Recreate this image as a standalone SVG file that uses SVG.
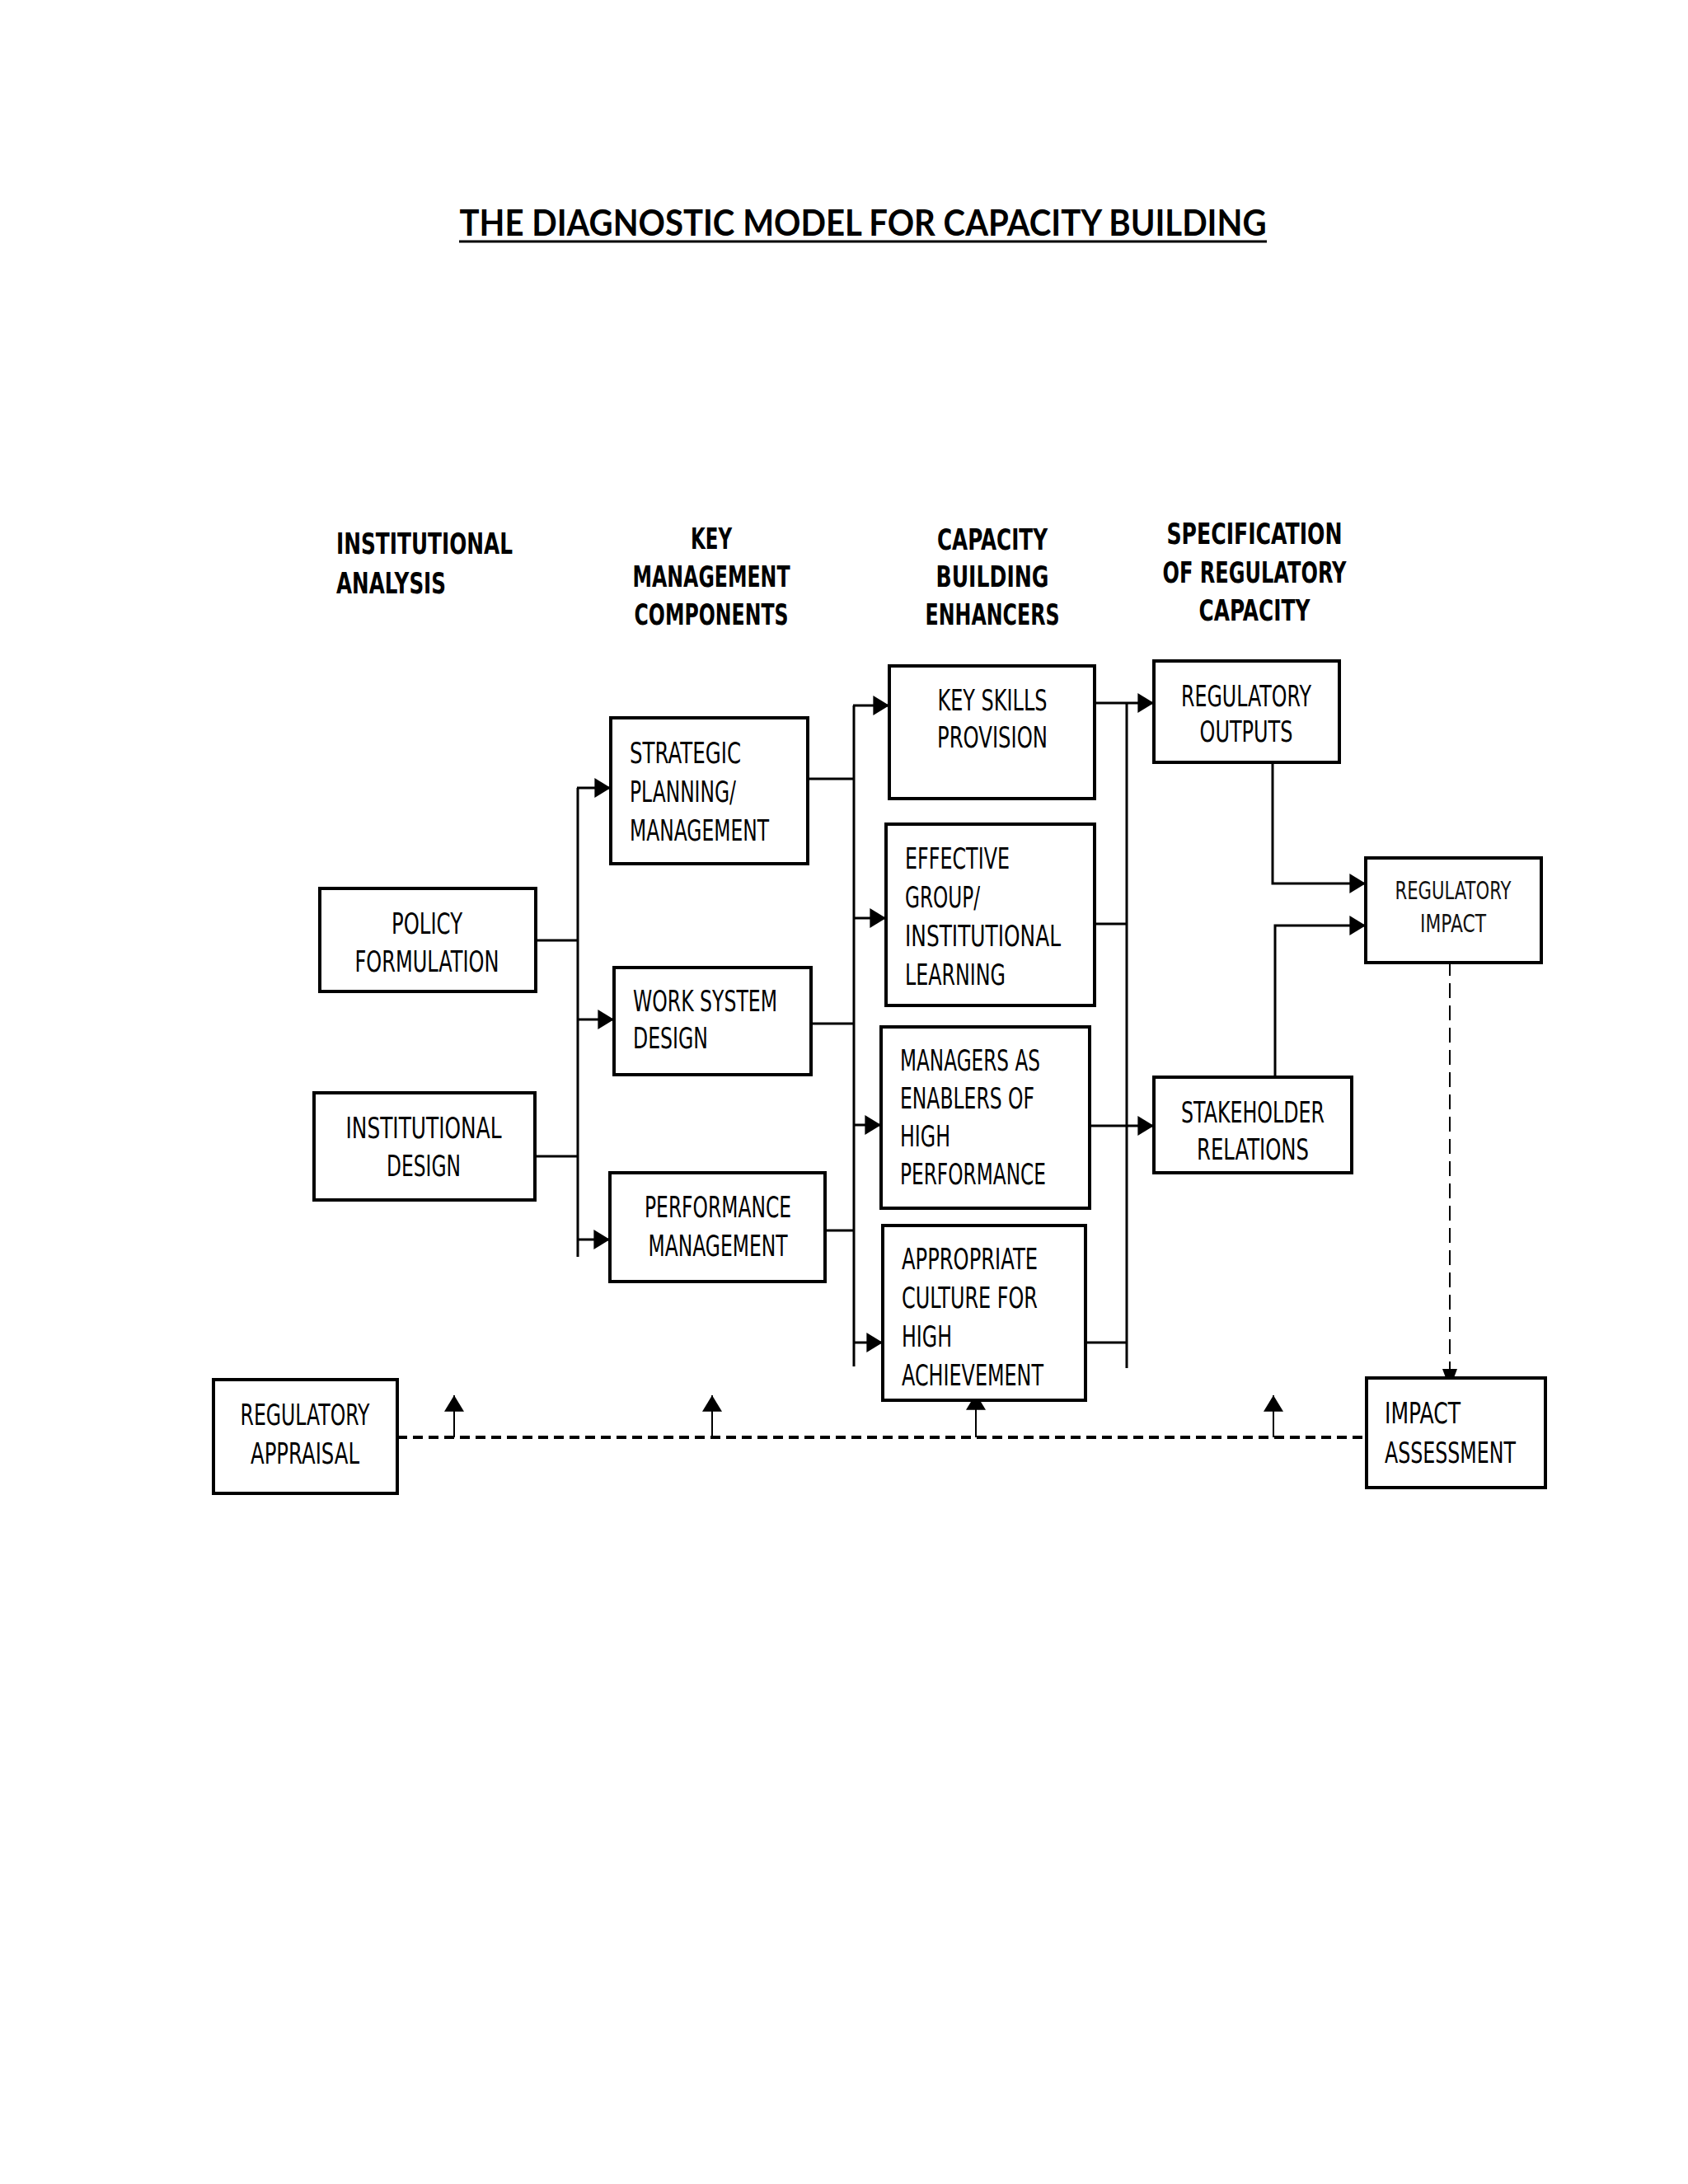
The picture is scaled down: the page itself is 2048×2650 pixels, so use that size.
<svg xmlns="http://www.w3.org/2000/svg" width="2048" height="2650" viewBox="0 0 2048 2650">
<style>
.box{fill:#fff;stroke:#000;stroke-width:4}
.t{font-family:"DejaVu Sans","Liberation Sans",sans-serif;font-size:36px;fill:#000}
.h{font-family:"DejaVu Sans","Liberation Sans",sans-serif;font-size:36px;font-weight:bold;fill:#000}
.thin{font-family:"DejaVu Sans","Liberation Sans",sans-serif;font-size:31px;fill:#111}
.c{text-anchor:middle}
.ln{fill:none;stroke:#000;stroke-width:3}
.ar{fill:none;stroke:#000;stroke-width:3;marker-end:url(#ah)}
.up{fill:none;stroke:#000;stroke-width:2;marker-end:url(#ah)}
.dash{fill:none;stroke:#000;stroke-width:4;stroke-dasharray:12 7}
.vdash{fill:none;stroke:#000;stroke-width:2;stroke-dasharray:18 9}
</style>
<defs>
<marker id="ah" markerUnits="userSpaceOnUse" markerWidth="20" markerHeight="24" viewBox="0 0 18 22" refX="18" refY="11" orient="auto">
<path d="M0,0 L18,11 L0,22 Z" fill="#000"/>
</marker>
</defs>
<rect width="2048" height="2650" fill="#fff"/>

<g id="title">
<text x="1047" y="286" text-anchor="middle" font-family="Lato,'Liberation Sans',sans-serif" font-weight="bold" font-size="43" textLength="979" lengthAdjust="spacingAndGlyphs">THE DIAGNOSTIC MODEL FOR CAPACITY BUILDING</text>
<line x1="557" y1="293" x2="1537" y2="293" stroke="#000" stroke-width="3"/>
</g>

<g id="headers">
<text class="h" x="408" y="672" textLength="214" lengthAdjust="spacingAndGlyphs">INSTITUTIONAL</text>
<text class="h" x="408" y="720" textLength="133" lengthAdjust="spacingAndGlyphs">ANALYSIS</text>
<text class="h c" x="863" y="666" textLength="50" lengthAdjust="spacingAndGlyphs">KEY</text>
<text class="h c" x="863" y="712" textLength="191" lengthAdjust="spacingAndGlyphs">MANAGEMENT</text>
<text class="h c" x="863" y="758" textLength="187" lengthAdjust="spacingAndGlyphs">COMPONENTS</text>
<text class="h c" x="1204" y="667" textLength="134" lengthAdjust="spacingAndGlyphs">CAPACITY</text>
<text class="h c" x="1204" y="712" textLength="137" lengthAdjust="spacingAndGlyphs">BUILDING</text>
<text class="h c" x="1204" y="758" textLength="163" lengthAdjust="spacingAndGlyphs">ENHANCERS</text>
<text class="h c" x="1522" y="660" textLength="213" lengthAdjust="spacingAndGlyphs">SPECIFICATION</text>
<text class="h c" x="1522" y="707" textLength="223" lengthAdjust="spacingAndGlyphs">OF REGULATORY</text>
<text class="h c" x="1522" y="753" textLength="135" lengthAdjust="spacingAndGlyphs">CAPACITY</text>
</g>

<g id="connectors">
<polyline class="ln" points="650,1141 701,1141"/>
<polyline class="ln" points="649,1403 701,1403"/>
<polyline class="ln" points="701,956 701,1525"/>
<polyline class="ar" points="700,956 741,956"/>
<polyline class="ar" points="700,1237 745,1237"/>
<polyline class="ar" points="700,1504 740,1504"/>
<polyline class="ln" points="980,945 1036,945"/>
<polyline class="ln" points="984,1242 1036,1242"/>
<polyline class="ln" points="1001,1493 1036,1493"/>
<polyline class="ln" points="1036,856 1036,1658"/>
<polyline class="ar" points="1035,856 1079,856"/>
<polyline class="ar" points="1035,1114 1075,1114"/>
<polyline class="ar" points="1035,1365 1069,1365"/>
<polyline class="ar" points="1035,1629 1071,1629"/>
<polyline class="ar" points="1328,853 1400,853"/>
<polyline class="ln" points="1328,1121 1367,1121"/>
<polyline class="ar" points="1322,1366 1400,1366"/>
<polyline class="ln" points="1317,1629 1367,1629"/>
<polyline class="ln" points="1367,853 1367,1660"/>
<polyline class="ar" points="1544,919 1544,1072 1657,1072"/>
<polyline class="ar" points="1547,1307 1547,1123 1657,1123"/>
<polyline class="vdash" points="1759,1166 1759,1670"/>
<path d="M1750,1661 L1759,1685 L1768,1661 Z" fill="#000"/>
<polyline class="dash" points="482,1744 1658,1744"/>
<polyline class="up" points="551,1744 551,1693"/>
<polyline class="up" points="864,1744 864,1693"/>
<polyline class="up" points="1184,1744 1184,1691"/>
<polyline class="up" points="1545,1744 1545,1693"/>
</g>

<g id="policy-formulation">
<rect class="box" x="388" y="1078" width="262" height="125"/>
<text class="t c" x="518" y="1133" textLength="86" lengthAdjust="spacingAndGlyphs">POLICY</text>
<text class="t c" x="518" y="1179" textLength="175" lengthAdjust="spacingAndGlyphs">FORMULATION</text>
</g>
<g id="institutional-design">
<rect class="box" x="381" y="1326" width="268" height="130"/>
<text class="t c" x="514" y="1381" textLength="189" lengthAdjust="spacingAndGlyphs">INSTITUTIONAL</text>
<text class="t c" x="514" y="1427" textLength="90" lengthAdjust="spacingAndGlyphs">DESIGN</text>
</g>
<g id="strategic-planning">
<rect class="box" x="741" y="871" width="239" height="177"/>
<text class="t" x="764" y="926" textLength="135" lengthAdjust="spacingAndGlyphs">STRATEGIC</text>
<text class="t" x="764" y="973" textLength="129" lengthAdjust="spacingAndGlyphs">PLANNING/</text>
<text class="t" x="764" y="1020" textLength="169" lengthAdjust="spacingAndGlyphs">MANAGEMENT</text>
</g>
<g id="work-system-design">
<rect class="box" x="745" y="1174" width="239" height="130"/>
<text class="t" x="768" y="1227" textLength="175" lengthAdjust="spacingAndGlyphs">WORK SYSTEM</text>
<text class="t" x="768" y="1272" textLength="91" lengthAdjust="spacingAndGlyphs">DESIGN</text>
</g>
<g id="performance-management">
<rect class="box" x="740" y="1423" width="261" height="132"/>
<text class="t c" x="871" y="1477" textLength="178" lengthAdjust="spacingAndGlyphs">PERFORMANCE</text>
<text class="t c" x="871" y="1524" textLength="169" lengthAdjust="spacingAndGlyphs">MANAGEMENT</text>
</g>
<g id="key-skills-provision">
<rect class="box" x="1079" y="808" width="249" height="161"/>
<text class="t c" x="1204" y="862" textLength="133" lengthAdjust="spacingAndGlyphs">KEY SKILLS</text>
<text class="t c" x="1204" y="907" textLength="134" lengthAdjust="spacingAndGlyphs">PROVISION</text>
</g>
<g id="effective-group-learning">
<rect class="box" x="1075" y="1000" width="253" height="220"/>
<text class="t" x="1098" y="1054" textLength="127" lengthAdjust="spacingAndGlyphs">EFFECTIVE</text>
<text class="t" x="1098" y="1101" textLength="91" lengthAdjust="spacingAndGlyphs">GROUP/</text>
<text class="t" x="1098" y="1148" textLength="189" lengthAdjust="spacingAndGlyphs">INSTITUTIONAL</text>
<text class="t" x="1098" y="1195" textLength="122" lengthAdjust="spacingAndGlyphs">LEARNING</text>
</g>
<g id="managers-enablers">
<rect class="box" x="1069" y="1246" width="253" height="220"/>
<text class="t" x="1092" y="1299" textLength="170" lengthAdjust="spacingAndGlyphs">MANAGERS AS</text>
<text class="t" x="1092" y="1345" textLength="163" lengthAdjust="spacingAndGlyphs">ENABLERS OF</text>
<text class="t" x="1092" y="1391" textLength="61" lengthAdjust="spacingAndGlyphs">HIGH</text>
<text class="t" x="1092" y="1437" textLength="177" lengthAdjust="spacingAndGlyphs">PERFORMANCE</text>
</g>
<g id="appropriate-culture">
<rect class="box" x="1071" y="1487" width="246" height="212"/>
<text class="t" x="1094" y="1540" textLength="165" lengthAdjust="spacingAndGlyphs">APPROPRIATE</text>
<text class="t" x="1094" y="1587" textLength="165" lengthAdjust="spacingAndGlyphs">CULTURE FOR</text>
<text class="t" x="1094" y="1634" textLength="61" lengthAdjust="spacingAndGlyphs">HIGH</text>
<text class="t" x="1094" y="1681" textLength="172" lengthAdjust="spacingAndGlyphs">ACHIEVEMENT</text>
</g>
<g id="regulatory-outputs">
<rect class="box" x="1400" y="802" width="225" height="123"/>
<text class="t c" x="1512" y="857" textLength="158" lengthAdjust="spacingAndGlyphs">REGULATORY</text>
<text class="t c" x="1512" y="900" textLength="113" lengthAdjust="spacingAndGlyphs">OUTPUTS</text>
</g>
<g id="regulatory-impact">
<rect class="box" x="1657" y="1041" width="213" height="127"/>
<text class="thin c" x="1763" y="1091" textLength="141" lengthAdjust="spacingAndGlyphs">REGULATORY</text>
<text class="thin c" x="1763" y="1131" textLength="80" lengthAdjust="spacingAndGlyphs">IMPACT</text>
</g>
<g id="stakeholder-relations">
<rect class="box" x="1400" y="1307" width="240" height="116"/>
<text class="t c" x="1520" y="1362" textLength="174" lengthAdjust="spacingAndGlyphs">STAKEHOLDER</text>
<text class="t c" x="1520" y="1407" textLength="136" lengthAdjust="spacingAndGlyphs">RELATIONS</text>
</g>
<g id="regulatory-appraisal">
<rect class="box" x="259" y="1674" width="223" height="138"/>
<text class="t c" x="370" y="1729" textLength="157" lengthAdjust="spacingAndGlyphs">REGULATORY</text>
<text class="t c" x="370" y="1776" textLength="132" lengthAdjust="spacingAndGlyphs">APPRAISAL</text>
</g>
<g id="impact-assessment">
<rect class="box" x="1658" y="1672" width="217" height="133"/>
<text class="t" x="1680" y="1727" textLength="92" lengthAdjust="spacingAndGlyphs">IMPACT</text>
<text class="t" x="1680" y="1775" textLength="159" lengthAdjust="spacingAndGlyphs">ASSESSMENT</text>
</g>
</svg>
